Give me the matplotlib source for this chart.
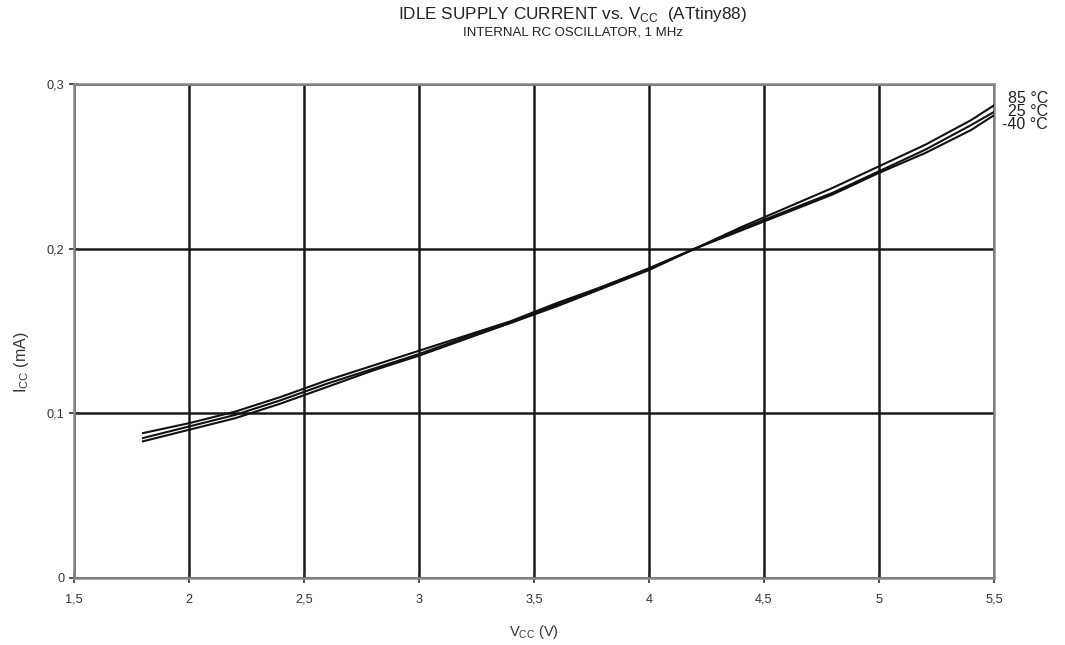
import matplotlib
matplotlib.use('Agg')
import matplotlib.pyplot as plt

plt.rcParams['font.family'] = ['Liberation Sans', 'DejaVu Sans']

# Datos (Vcc en V, Icc en mA)
vcc = [1.8, 2.0, 2.2, 2.4, 2.6, 2.8, 3.0, 3.2, 3.4, 3.6, 3.8, 4.0, 4.2, 4.4, 4.6, 4.8, 5.0, 5.2, 5.4, 5.5]
i_85 = [0.083, 0.090, 0.097, 0.106, 0.116, 0.126, 0.135, 0.145, 0.155, 0.165, 0.176, 0.187, 0.200, 0.213, 0.225, 0.237, 0.250, 0.263, 0.278, 0.287]
i_25 = [0.085, 0.092, 0.099, 0.108, 0.118, 0.127, 0.136, 0.146, 0.155, 0.166, 0.177, 0.188, 0.200, 0.212, 0.223, 0.234, 0.247, 0.260, 0.275, 0.283]
i_m40 = [0.088, 0.094, 0.101, 0.110, 0.120, 0.129, 0.138, 0.147, 0.156, 0.167, 0.177, 0.188, 0.200, 0.211, 0.222, 0.233, 0.246, 0.258, 0.272, 0.281]
curve_labels = ['85 °C', '25 °C', '-40 °C']

xticks = [1.5, 2, 2.5, 3, 3.5, 4, 4.5, 5, 5.5]
xtick_labels = ['1,5', '2', '2,5', '3', '3,5', '4', '4,5', '5', '5,5']
yticks = [0, 0.1, 0.2, 0.3]
ytick_labels = ['0', '0,1', '0,2', '0,3']

fig = plt.figure(figsize=(10.65, 6.45), dpi=100)
ax = fig.add_axes([0.0695, 0.1039, 0.8638, 0.7659])

for y in [i_85, i_25, i_m40]:
    ax.plot(vcc, y, color='#111111', lw=1.5, zorder=3)

ax.set_xlim(1.5, 5.5)
ax.set_ylim(0, 0.3)
ax.set_xticks(xticks)
ax.set_xticklabels(xtick_labels)
ax.set_yticks(yticks)
ax.set_yticklabels(ytick_labels)
ax.grid(True, color='#1a1a1a', lw=1.8, zorder=1)
ax.tick_params(axis='both', labelsize=9.2, colors='#333333', direction='inout', length=7, width=1.2)
ax.tick_params(axis='x', pad=8)
for s in ax.spines.values():
    s.set_color('#888888')
    s.set_linewidth(1.8)

ax.set_xlabel('V$_{\\mathregular{CC}}$ (V)', fontsize=10.5, color='#333333', labelpad=12)
ax.set_ylabel('I$_{\\mathregular{CC}}$ (mA)', fontsize=11.5, color='#333333')
ax.yaxis.set_label_coords(-0.047, 0.437)

# etiquetas de las curvas a la derecha
ax.text(1.009, 0.985, '\n'.join(curve_labels), transform=ax.transAxes, fontsize=11.5,
        ha='left', va='top', color='#222222', linespacing=0.8, multialignment='right')

fig.text(0.538, 0.977, 'IDLE SUPPLY CURRENT vs. V$_{\\mathregular{CC}}$  (ATtiny88)',
         ha='center', va='center', fontsize=12.3, color='#222222')
fig.text(0.538, 0.950, 'INTERNAL RC OSCILLATOR, 1 MHz', ha='center', va='center',
         fontsize=9.5, color='#222222')

fig.savefig('out.png', dpi=100)
